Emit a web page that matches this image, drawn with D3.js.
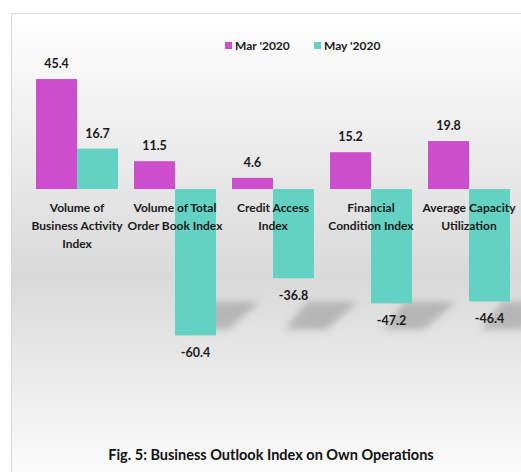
<!DOCTYPE html>
<html lang="en">
<head>
<meta charset="utf-8">
<title>Business Outlook Index on Own Operations</title>
<script src="https://cdn.jsdelivr.net/npm/d3@7"></script>
<style>
  body { margin: 0; background: #fff; }
  svg { display: block; font-family: Lato, "Open Sans", sans-serif; }
</style>
</head>
<body>
<script>
// chart data
var categories = [
  ["Volume of", "Business Activity", "Index"],
  ["Volume of Total", "Order Book Index"],
  ["Credit Access", "Index"],
  ["Financial", "Condition Index"],
  ["Average Capacity", "Utilization"]
]
var seriesNames = ["Mar '2020", "May '2020"]
var marValues = [45.4, 11.5, 4.6, 15.2, 19.8]
var mayValues = [16.7, -60.4, -36.8, -47.2, -46.4]
var colors = ["#cc4ecc", "#64d2c2"]

var width = 521, height = 472

var svg = d3.select("body").append("svg")
  .attr("width", width)
  .attr("height", height)

var defs = svg.append("defs")
var grad = defs.append("linearGradient")
  .attr("id", "bg").attr("x1", 0).attr("y1", 0).attr("x2", 0).attr("y2", 1)
grad.append("stop").attr("offset", "0%").attr("stop-color", "#ffffff")
grad.append("stop").attr("offset", "55%").attr("stop-color", "#d9d9d9")
grad.append("stop").attr("offset", "100%").attr("stop-color", "#ffffff")

defs.append("filter").attr("id", "blur")
  .attr("x", "-30%").attr("y", "-30%").attr("width", "160%").attr("height", "160%")
  .append("feGaussianBlur").attr("stdDeviation", 3.5)

// frame
svg.append("rect")
  .attr("x", 11.5).attr("y", 13.5)
  .attr("width", 530).attr("height", 480)
  .attr("fill", "url(#bg)")
  .attr("stroke", "#d9d9d9")

var rows = categories.map(function(c, i) {
  return { lines: c, values: [marValues[i], mayValues[i]] }
})

var x0 = d3.scaleBand()
  .domain(d3.range(categories.length))
  .range([28, 518])

var x1 = d3.scaleBand()
  .domain(seriesNames)
  .range([8, 90])

var y = d3.scaleLinear()
  .domain([-60, 50])
  .range([334.4, 67.9])

// cast shadows of the negative bars
var floorTop = y(-46.5), floorBot = y(-58)
svg.append("g").selectAll("polygon")
  .data(rows.filter(function(d) { return d.values[1] < 0 }))
  .enter().append("polygon")
    .attr("points", function(d) {
      var i = rows.indexOf(d)
      var left = x0(i) + x1(seriesNames[1]), bw = x1.bandwidth()
      return [[left + 12, floorBot], [left + bw + 12, floorBot],
              [left + bw + 44, floorTop], [left + 34, floorTop]].join(" ")
    })
    .attr("fill", "#8c8c8c")
    .attr("opacity", 0.5)
    .attr("filter", "url(#blur)")

// bars
var groups = svg.append("g").selectAll("g")
  .data(rows)
  .enter().append("g")
    .attr("transform", function(d, i) { return "translate(" + x0(i) + ",0)" })

groups.selectAll("rect")
  .data(function(d) { return d.values.map(function(v, j) { return { key: seriesNames[j], value: v, j: j } }) })
  .enter().append("rect")
    .attr("x", function(d) { return x1(d.key) })
    .attr("width", x1.bandwidth())
    .attr("y", function(d) { return y(Math.max(0, d.value)) })
    .attr("height", function(d) { return Math.abs(y(d.value) - y(0)) })
    .attr("fill", function(d) { return colors[d.j] })

// value labels
groups.selectAll("text.val")
  .data(function(d) { return d.values.map(function(v, j) { return { key: seriesNames[j], value: v } }) })
  .enter().append("text")
    .attr("class", "val")
    .attr("x", function(d) { return x1(d.key) + x1.bandwidth() / 2 })
    .attr("y", function(d) { return d.value >= 0 ? y(d.value) - 11 : y(d.value) + 22 })
    .attr("text-anchor", "middle")
    .style("font-size", "12.5px")
    .style("font-weight", "bold")
    .style("fill", "#1a1a1a")
    .text(function(d) { return d.value.toFixed(1) })

// category labels
groups.append("text")
  .attr("text-anchor", "middle")
  .style("font-size", "12px")
  .style("font-weight", "bold")
  .style("fill", "#1a1a1a")
  .selectAll("tspan")
  .data(function(d) { return d.lines })
  .enter().append("tspan")
    .attr("x", x0.bandwidth() / 2)
    .attr("y", function(d, i) { return 212 + i * 18 })
    .text(function(d) { return d })

// legend
var legend = svg.append("g").selectAll("g")
  .data(seriesNames)
  .enter().append("g")
    .attr("transform", function(d, i) { return "translate(" + (225 + i * 89) + ",42)" })
legend.append("rect")
  .attr("width", 7).attr("height", 7)
  .attr("fill", function(d, i) { return colors[i] })
legend.append("text")
  .attr("x", 10).attr("y", 8)
  .style("font-size", "12px")
  .style("font-weight", "bold")
  .style("fill", "#1a1a1a")
  .text(function(d) { return d })

// title
svg.append("text")
  .attr("x", 271).attr("y", 460)
  .attr("text-anchor", "middle")
  .style("font-size", "14.5px")
  .style("font-weight", "bold")
  .style("fill", "#111")
  .text("Fig. 5: Business Outlook Index on Own Operations")
</script>
</body>
</html>
